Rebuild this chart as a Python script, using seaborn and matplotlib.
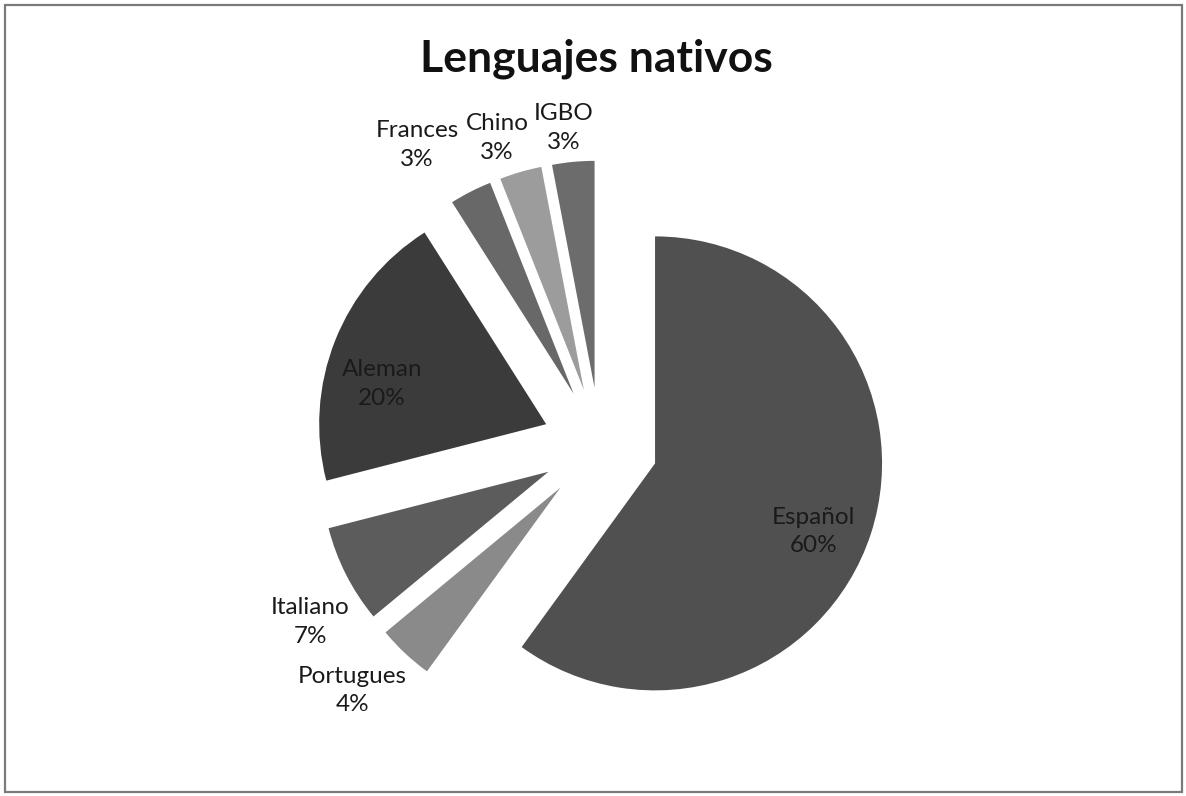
import numpy as np
import pandas as pd
import seaborn as sns
import matplotlib
matplotlib.use("Agg")
import matplotlib.pyplot as plt
from matplotlib.patches import Rectangle

# Native-language shares (percent), clockwise from 12 o'clock
languages = ["Español", "Portugues", "Italiano", "Aleman", "Frances", "Chino", "IGBO"]
shares = [60, 4, 7, 20, 3, 3, 3]

title = "Lenguajes nativos"

df = pd.DataFrame({"lengua": languages, "pct": shares})

sns.set_theme(style="white")
plt.rcParams["font.family"] = ["Lato", "DejaVu Sans"]

grays = sns.color_palette(["#505050", "#8a8a8a", "#5c5c5c", "#3b3b3b",
                           "#686868", "#9c9c9c", "#6c6c6c"])

W, H = 1186, 796
fig = plt.figure(figsize=(W / 100, H / 100), dpi=100)
fig.patch.set_facecolor("white")

# pie geometry in pixels: radius and centre of the unexploded pie
R_PX = 227.0
CX, CY = 600.0, 445.5
EXPLODE = 0.255

ax = fig.add_axes([0, 0, 1, 1])
wedges, _ = ax.pie(df["pct"], colors=grays, startangle=90, counterclock=False,
                   explode=[EXPLODE] * len(df), radius=1.0,
                   wedgeprops=dict(linewidth=0))
ax.set_xlim(-CX / R_PX, (W - CX) / R_PX)
ax.set_ylim(-(H - CY) / R_PX, CY / R_PX)
ax.set_aspect("auto")
ax.axis("off")

# label placement: distance from the wedge apex and angular shift from its bisector
label_dist = [0.76, 1.28, 1.24, 0.745, 1.296, 1.174, 1.153]
label_shift = [-5.3, -2.5, 5.2, 7.8, 5.2, 2.8, 1.3]

for w, name, pct, d, s in zip(wedges, df["lengua"], df["pct"], label_dist, label_shift):
    mid = np.deg2rad((w.theta1 + w.theta2) / 2 + s)
    cx, cy = w.center
    ax.text(cx + d * np.cos(mid), cy + d * np.sin(mid), f"{name}\n{pct}%",
            ha="center", va="center", fontsize=17.5, color="#1a1a1a",
            linespacing=1.45)

fig.text(596 / W, 1 - 59 / H, title, ha="center", va="center",
         fontsize=32, fontweight="bold", color="#111111")

# chart frame
fig.patches.append(Rectangle((5 / W, 4 / H), 1177 / W, 787 / H,
                             transform=fig.transFigure, fill=False,
                             edgecolor="#7a7a7a", linewidth=1.6))

fig.savefig("out.png", dpi=100, facecolor="white")
